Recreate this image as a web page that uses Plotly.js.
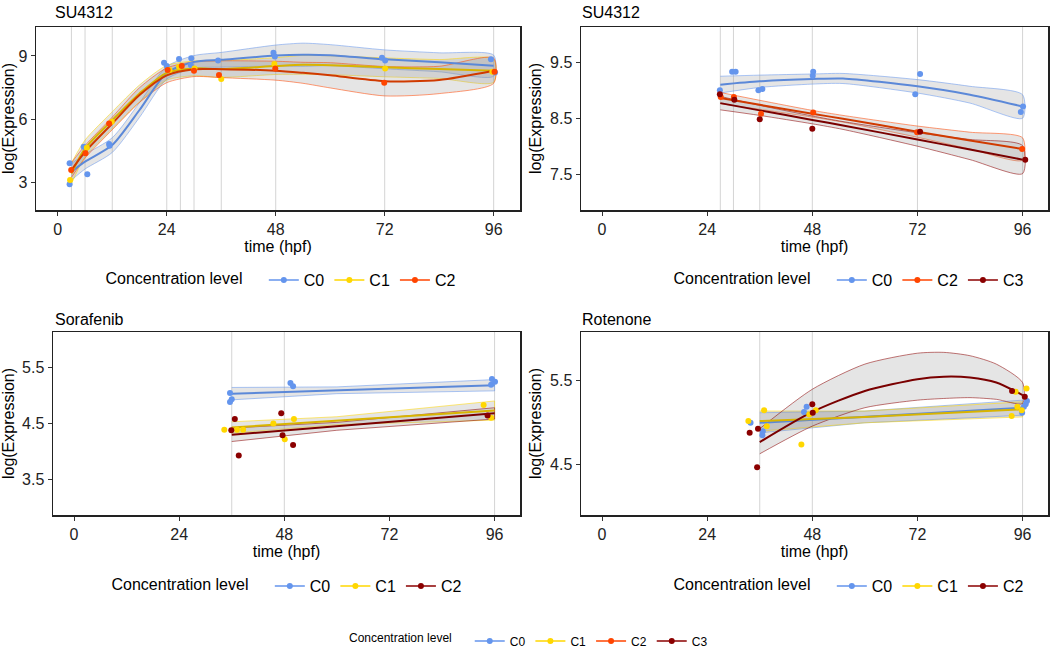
<!DOCTYPE html>
<html><head><meta charset="utf-8">
<script src="https://cdn.plot.ly/plotly-3.0.1.min.js"></script>
<style>body{margin:0}#c{width:1056px;height:672px}</style></head>
<body><div id="c"></div>
<script>
// ---------- Panel 1: SU4312 (C0,C1,C2) ----------
const p1_grid = [3,6,12,24,27,30,36,48,72,96];
const p1_C0_t = [2.6,2.6,5.7,6.5,11.3,11.4,23.4,24.0,26.7,29.4,29.3,35.3,47.5,47.8,71.4,72.1,95.4,96.3];
const p1_C0_v = [3.89,2.89,4.68,3.37,4.81,4.73,8.68,8.52,8.86,8.89,8.57,8.78,9.16,8.97,8.92,8.78,8.84,8.22];
const p1_C1_t = [2.7,6.4,11.9,24.6,26.7,30.1,36.0,47.7,72.1,95.7];
const p1_C1_v = [3.1,4.63,5.87,8.33,8.49,8.41,7.9,8.62,8.41,8.25];
const p1_C2_t = [2.95,6.1,11.3,24.2,27.3,30.0,35.5,47.9,71.9,96.2];
const p1_C2_v = [3.57,4.37,5.79,8.33,8.52,8.3,8.1,8.41,7.73,8.25];
const p1_fit_t = [3,6,12,18,24,30,36,48,54,60,72,84,96];
const p1_C0_fit = [3.49,3.97,4.76,6.43,8.2,8.72,8.82,9.02,9.06,9.04,8.84,8.7,8.54];
const p1_C0_se  = [0.4,0.35,0.35,0.35,0.3,0.3,0.35,0.5,0.55,0.5,0.45,0.45,0.5];
const p1_C1_fit = [3.41,4.6,5.95,7.22,8.2,8.41,8.38,8.52,8.58,8.56,8.46,8.38,8.3];
const p1_C1_se  = [0.5,0.4,0.4,0.4,0.35,0.35,0.4,0.4,0.45,0.45,0.45,0.45,0.55];
const p1_C2_fit = [3.57,4.44,5.79,7.14,8.08,8.37,8.37,8.3,8.2,8.08,7.8,7.86,8.3];
const p1_C2_se  = [0.35,0.3,0.3,0.35,0.35,0.35,0.4,0.45,0.5,0.6,0.7,0.65,0.6];

// ---------- Panel 2: SU4312 (C0,C2,C3) ----------
const p2_grid = [27,30,36,48,72,96];
const p2_C0_t = [26.9,29.7,30.5,35.7,36.6,48.1,48.2,71.5,72.6,95.6,96.1];
const p2_C0_v = [9.0,9.33,9.33,9.0,9.02,9.26,9.33,8.93,9.29,8.61,8.71];
const p2_C2_t = [27.1,30.1,36.3,48.2,71.9,95.9];
const p2_C2_v = [8.88,8.88,8.58,8.60,8.25,7.95];
const p2_C3_t = [26.9,30.2,36.0,48.0,72.6,96.6];
const p2_C3_v = [8.93,8.83,8.48,8.31,8.26,7.76];
const p2_fit_t = [27,36,48,55,72,84,96];
const p2_C0_fit = [9.10,9.16,9.2,9.21,9.07,8.92,8.71];
const p2_C0_se  = [0.15,0.11,0.09,0.09,0.12,0.15,0.21];
const p2_C2_fit = [8.86,8.74,8.58,8.49,8.26,8.1,7.95];
const p2_C2_se  = [0.1,0.08,0.06,0.06,0.1,0.15,0.2];
const p2_C3_fit = [8.77,8.64,8.47,8.37,8.12,7.94,7.76];
const p2_C3_se  = [0.12,0.09,0.07,0.07,0.12,0.18,0.25];

// ---------- Panel 3: Sorafenib (C0,C1,C2 in dark red) ----------
const p3_grid = [36,48,96];
const p3_C0_t = [35.6,36.0,35.6,49.4,50.0,95.4,95.2,96.1];
const p3_C0_v = [5.04,4.93,4.88,5.22,5.16,5.29,5.19,5.24];
const p3_C1_t = [34.3,37.2,38.6,45.5,48.1,50.2,93.5,95.2];
const p3_C1_v = [4.39,4.39,4.39,4.5,4.22,4.58,4.83,4.6];
const p3_C2_t = [35.9,36.7,37.6,47.3,47.6,50.0,94.4];
const p3_C2_v = [4.38,4.58,3.93,4.68,4.29,4.12,4.64];
const p3_fit_t = [36,60,96];
const p3_C0_fit = [5.03,5.09,5.18];
const p3_C0_se  = [0.11,0.06,0.1];
const p3_C1_fit = [4.43,4.55,4.73];
const p3_C1_se  = [0.1,0.07,0.17];
const p3_C2_fit = [4.30,4.45,4.68];
const p3_C2_se  = [0.12,0.07,0.1];

// ---------- Panel 4: Rotenone ----------
const p4_grid = [36,48,96];
const p4_C0_t = [33.9,36.7,36.6,46.1,46.7,95.9,96.3,96.7,97.0];
const p4_C0_v = [5.0,4.9,4.85,5.13,5.19,5.12,5.19,5.22,5.26];
const p4_C1_t = [33.4,37.0,37.6,45.5,47.3,48.8,93.5,94.4,94.8,95.8,96.9];
const p4_C1_v = [5.02,5.15,4.96,4.74,5.10,5.15,5.08,5.37,5.19,5.15,5.41];
const p4_C2_t = [33.7,35.6,35.4,48.0,48.1,93.6,96.5];
const p4_C2_v = [4.88,4.93,4.47,5.22,5.12,5.38,5.31];
const p4_lin_t = [36,60,96];
const p4_C0_fit = [5.0,5.07,5.18];
const p4_C0_se  = [0.12,0.07,0.09];
const p4_C1_fit = [5.02,5.07,5.16];
const p4_C1_se  = [0.12,0.07,0.09];
const p4_fit_t = [36,48,60,72,78,84,90,96];
const p4_C2_fit = [4.77,5.13,5.38,5.52,5.55,5.54,5.48,5.33];
const p4_C2_up  = [4.93,5.40,5.70,5.83,5.84,5.80,5.70,5.48];
const p4_C2_lo  = [4.63,4.96,5.18,5.27,5.29,5.30,5.28,5.23];

const levels = ['C0','C1','C2','C3'];
const COL = {C0:'#6495ED', C1:'#FFD700', C2:'#FF4500', C3:'#8B0000'};
const LINE = {C0:'#5b88d8', C1:'#d8b400', C2:'#d03a00', C3:'#7a0000'};

const traces = [];
function band(ax, t, up, lo, lvl, shape){
  traces.push({x:t.concat(t.slice().reverse()), y:up.concat(lo.slice().reverse()),
    xaxis:'x'+ax, yaxis:'y'+ax, type:'scatter', mode:'lines', fill:'toself',
    fillcolor:'rgba(153,153,153,0.27)', line:{color:COL[lvl], width:0.6, shape:shape, smoothing:0.7},
    opacity:0.9, showlegend:false, hoverinfo:'skip'});
}
function fit(ax, t, f, se, lvl, shape){
  band(ax, t, f.map((v,i)=>v+se[i]), f.map((v,i)=>v-se[i]), lvl, shape);
}
function line(ax, t, f, lvl, shape){
  traces.push({x:t, y:f, xaxis:'x'+ax, yaxis:'y'+ax, type:'scatter', mode:'lines',
    line:{color:LINE[lvl], width:2, shape:shape, smoothing:0.7}, showlegend:false, hoverinfo:'skip'});
}
function pts(ax, t, v, lvl){
  traces.push({x:t, y:v, xaxis:'x'+ax, yaxis:'y'+ax, type:'scatter', mode:'markers',
    marker:{color:COL[lvl], size:6}, showlegend:false});
}
function leg(lg, lvl, col){
  const c = COL[col||lvl];
  traces.push({x:[null], y:[null], xaxis:'x', yaxis:'y', type:'scatter', mode:'lines+markers',
    name:lvl, legend:lg, line:{color:c, width:1.5}, marker:{color:c, size:6}});
}

// panel 1
fit('', p1_fit_t, p1_C0_fit, p1_C0_se, 'C0', 'spline');
fit('', p1_fit_t, p1_C1_fit, p1_C1_se, 'C1', 'spline');
fit('', p1_fit_t, p1_C2_fit, p1_C2_se, 'C2', 'spline');
line('', p1_fit_t, p1_C0_fit, 'C0', 'spline');
line('', p1_fit_t, p1_C1_fit, 'C1', 'spline');
line('', p1_fit_t, p1_C2_fit, 'C2', 'spline');
pts('', p1_C0_t, p1_C0_v, 'C0'); pts('', p1_C1_t, p1_C1_v, 'C1'); pts('', p1_C2_t, p1_C2_v, 'C2');
// panel 2
fit('2', p2_fit_t, p2_C0_fit, p2_C0_se, 'C0', 'spline');
fit('2', p2_fit_t, p2_C2_fit, p2_C2_se, 'C2', 'spline');
fit('2', p2_fit_t, p2_C3_fit, p2_C3_se, 'C3', 'spline');
line('2', p2_fit_t, p2_C0_fit, 'C0', 'spline');
line('2', p2_fit_t, p2_C2_fit, 'C2', 'spline');
line('2', p2_fit_t, p2_C3_fit, 'C3', 'spline');
pts('2', p2_C0_t, p2_C0_v, 'C0'); pts('2', p2_C2_t, p2_C2_v, 'C2'); pts('2', p2_C3_t, p2_C3_v, 'C3');
// panel 3 (C2 drawn in dark red)
fit('3', p3_fit_t, p3_C0_fit, p3_C0_se, 'C0', 'linear');
fit('3', p3_fit_t, p3_C1_fit, p3_C1_se, 'C1', 'linear');
fit('3', p3_fit_t, p3_C2_fit, p3_C2_se, 'C3', 'linear');
line('3', p3_fit_t, p3_C0_fit, 'C0', 'linear');
line('3', p3_fit_t, p3_C1_fit, 'C1', 'linear');
line('3', p3_fit_t, p3_C2_fit, 'C3', 'linear');
pts('3', p3_C0_t, p3_C0_v, 'C0'); pts('3', p3_C1_t, p3_C1_v, 'C1'); pts('3', p3_C2_t, p3_C2_v, 'C3');
// panel 4
fit('4', p4_lin_t, p4_C0_fit, p4_C0_se, 'C0', 'linear');
fit('4', p4_lin_t, p4_C1_fit, p4_C1_se, 'C1', 'linear');
band('4', p4_fit_t, p4_C2_up, p4_C2_lo, 'C3', 'spline');
line('4', p4_lin_t, p4_C0_fit, 'C0', 'linear');
line('4', p4_lin_t, p4_C1_fit, 'C1', 'linear');
line('4', p4_fit_t, p4_C2_fit, 'C3', 'spline');
pts('4', p4_C0_t, p4_C0_v, 'C0'); pts('4', p4_C1_t, p4_C1_v, 'C1'); pts('4', p4_C2_t, p4_C2_v, 'C3');

// legends
leg('legend2','C0'); leg('legend2','C1'); leg('legend2','C2');
leg('legend3','C0'); leg('legend3','C2'); leg('legend3','C3');
leg('legend4','C0'); leg('legend4','C1'); leg('legend4','C2','C3');
leg('legend5','C0'); leg('legend5','C1'); leg('legend5','C2','C3');
levels.forEach(l=>leg('legend', l));

const W=1056, H=672;
const fx = (a,b)=>[a/W, b/W];
const fy = (top,bot)=>[1-bot/H, 1-top/H];
const axX = (dom, anchor)=>({domain:dom, anchor:anchor, range:[-4.8,101.8], tickvals:[0,24,48,72,96],
  showgrid:false, zeroline:false, showline:true, mirror:true, linecolor:'#222', linewidth:1.5,
  ticks:'outside', ticklen:4, tickcolor:'#333', tickfont:{size:16,color:'#222'},
  title:{text:'time (hpf)', font:{size:16,color:'#000'}, standoff:0}});
const axY = (dom, anchor, range, tv)=>({domain:dom, anchor:anchor, range:range, tickvals:tv,
  showgrid:false, zeroline:false, showline:true, mirror:true, linecolor:'#222', linewidth:1.5,
  ticks:'outside', ticklen:4, tickcolor:'#333', tickfont:{size:16,color:'#222'},
  title:{text:'log(Expression)', font:{size:16,color:'#000'}, standoff:4}});

const shapes = [];
[[p1_grid,'x','y'],[p2_grid,'x2','y2'],[p3_grid,'x3','y3'],[p4_grid,'x4','y4']].forEach(([g,xr,yr])=>{
  g.forEach(t=>shapes.push({type:'line', xref:xr, yref:yr+' domain', x0:t, x1:t, y0:0, y1:1,
    line:{color:'#d4d4d4', width:1}, layer:'below'}));
});

const legStyle = (x,y,size)=>({x:x/W, y:1-y/H, xref:'paper', yref:'paper', xanchor:'center', yanchor:'middle',
  orientation:'h', font:{size:size, color:'#000'}, bgcolor:'rgba(0,0,0,0)',
  title:{text:'Concentration level   ', side:'left', font:{size:size, color:'#000'}}, itemwidth:30});

const layout = {
  width:W, height:H, margin:{l:0,r:0,t:0,b:0}, paper_bgcolor:'#fff', plot_bgcolor:'#fff',
  font:{family:'Liberation Sans, Arial, sans-serif'}, hovermode:false,
  xaxis: axX(fx(36,520),'y'),  yaxis: axY(fy(27,210),'x',[1.67,10.38],[3,6,9]),
  xaxis2:axX(fx(581,1048),'y2'), yaxis2:axY(fy(27,210),'x2',[6.86,10.13],[7.5,8.5,9.5]),
  xaxis3:axX(fx(53,520),'y3'),  yaxis3:axY(fy(332,515),'x3',[2.875,6.125],[3.5,4.5,5.5]),
  xaxis4:axX(fx(581,1048),'y4'), yaxis4:axY(fy(332,515),'x4',[3.90,6.083],[4.5,5.5]),
  shapes:shapes,
  annotations:[
    {text:'SU4312', x:53/W, y:1-12/H, xref:'paper', yref:'paper', xanchor:'left', yanchor:'middle', showarrow:false, font:{size:16,color:'#000'}},
    {text:'SU4312', x:580/W, y:1-12/H, xref:'paper', yref:'paper', xanchor:'left', yanchor:'middle', showarrow:false, font:{size:16,color:'#000'}},
    {text:'Sorafenib', x:53/W, y:1-319/H, xref:'paper', yref:'paper', xanchor:'left', yanchor:'middle', showarrow:false, font:{size:16,color:'#000'}},
    {text:'Rotenone', x:580/W, y:1-319/H, xref:'paper', yref:'paper', xanchor:'left', yanchor:'middle', showarrow:false, font:{size:16,color:'#000'}}
  ],
  legend: legStyle(530,641,12),
  legend2: legStyle(282,280,16),
  legend3: legStyle(850,280,16),
  legend4: legStyle(288,586,16),
  legend5: legStyle(850,586,16)
};
Plotly.newPlot('c', traces, layout, {staticPlot:true});
</script></body></html>
